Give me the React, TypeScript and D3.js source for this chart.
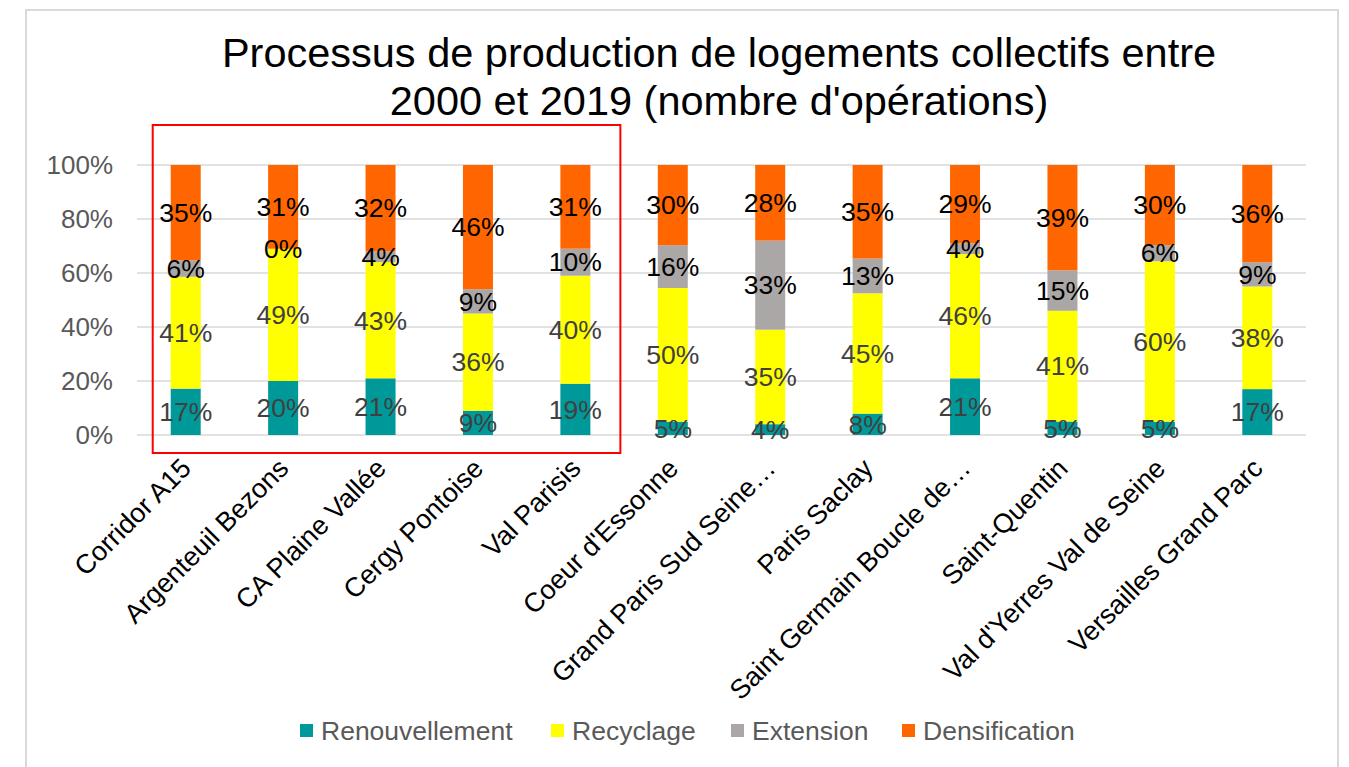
import React from "react";
import * as d3 from "d3";

const categories = [
  "Corridor A15",
  "Argenteuil Bezons",
  "CA Plaine Vallée",
  "Cergy Pontoise",
  "Val Parisis",
  "Coeur d'Essonne",
  "Grand Paris Sud Seine…",
  "Paris Saclay",
  "Saint Germain Boucle de…",
  "Saint-Quentin",
  "Val d'Yerres Val de Seine",
  "Versailles Grand Parc",
];

const renouvellement = [17, 20, 21, 9, 19, 5, 4, 8, 21, 5, 5, 17];
const recyclage = [41, 49, 43, 36, 40, 50, 35, 45, 46, 41, 60, 38];
const extension = [6, 0, 4, 9, 10, 16, 33, 13, 4, 15, 6, 9];
const densification = [35, 31, 32, 46, 31, 30, 28, 35, 29, 39, 30, 36];

const seriesNames = ["Renouvellement", "Recyclage", "Extension", "Densification"];
const seriesColors = ["#009999", "#FFFF00", "#ABA7A6", "#FF6600"];
const labelColors = ["#404040", "#404040", "#000000", "#000000"];
const yTicks = [0, 0.2, 0.4, 0.6, 0.8, 1];

const FONT = "'Liberation Sans', Arial, sans-serif";

export default function App() {
  const W = 1349;
  const H = 767;
  const values = [renouvellement, recyclage, extension, densification];

  const x = d3.scaleBand<string>().domain(categories).range([137, 1306]).paddingInner(0).paddingOuter(0);
  const y = d3.scaleLinear().domain([0, 1]).range([435, 165]);
  const barW = 30;

  const rows = categories.map((c, i) => {
    const row: any = { cat: c };
    seriesNames.forEach((s, k) => (row[s] = values[k][i]));
    return row;
  });
  const totals = categories.map((_, i) => values.reduce((a, v) => a + v[i], 0));
  const stack = d3.stack<any>().keys(seriesNames).value((d, key) => d[key] / totals[categories.indexOf(d.cat)]);
  const stacked = stack(rows);

  const cx = (c: string) => (x(c) as number) + x.bandwidth() / 2;
  const fmt = d3.format(".0%");

  const legendX = [300, 551, 731, 902];

  return (
    <svg width={W} height={H} style={{ position: "absolute", left: 0, top: 0, background: "#fff" }} fontFamily={FONT}>
      <rect x={26} y={10} width={1312} height={770} fill="#fff" stroke="#D9D9D9" strokeWidth={2} />
      <text x={719} y={67} textAnchor="middle" fontSize={41.5} fill="#000">
        Processus de production de logements collectifs entre
      </text>
      <text x={719} y={115} textAnchor="middle" fontSize={41.5} fill="#000">
        2000 et 2019 (nombre d'opérations)
      </text>

      {yTicks.map((t) => (
        <g key={t}>
          <line x1={137} x2={1306} y1={y(t)} y2={y(t)} stroke="#D9D9D9" strokeWidth={1.5} />
          <text x={113} y={y(t)} dy="0.35em" textAnchor="end" fontSize={26} fill="#595959">
            {fmt(t)}
          </text>
        </g>
      ))}

      {stacked.map((layer, k) => (
        <g key={layer.key}>
          {layer.map((d, i) => (
            <rect
              key={i}
              x={cx(categories[i]) - barW / 2}
              y={y(d[1])}
              width={barW}
              height={Math.max(0, y(d[0]) - y(d[1]))}
              fill={seriesColors[k]}
            />
          ))}
        </g>
      ))}

      {stacked.map((layer, k) => (
        <g key={"l" + layer.key}>
          {layer.map((d, i) => (
            <text
              key={i}
              x={cx(categories[i])}
              y={y((d[0] + d[1]) / 2)}
              dy="0.35em"
              textAnchor="middle"
              fontSize={26.5}
              fill={labelColors[k]}
            >
              {values[k][i]}%
            </text>
          ))}
        </g>
      ))}

      {categories.map((c) => (
        <text
          key={c}
          transform={`translate(${cx(c) + 7},${470}) rotate(-45)`}
          textAnchor="end"
          fontSize={27}
          fill="#000"
        >
          {c}
        </text>
      ))}

      <rect
        x={cx(categories[0]) - 33}
        y={y(1) - 40}
        width={cx(categories[4]) + 45 - (cx(categories[0]) - 33)}
        height={y(0) + 18 - (y(1) - 40)}
        fill="none"
        stroke="#FF0000"
        strokeWidth={2}
      />

      {seriesNames.map((s, k) => (
        <g key={s}>
          <rect x={legendX[k]} y={724} width={13} height={13} fill={seriesColors[k]} />
          <text x={legendX[k] + 21} y={740} fontSize={26.5} fill="#595959">
            {s}
          </text>
        </g>
      ))}
    </svg>
  );
}
